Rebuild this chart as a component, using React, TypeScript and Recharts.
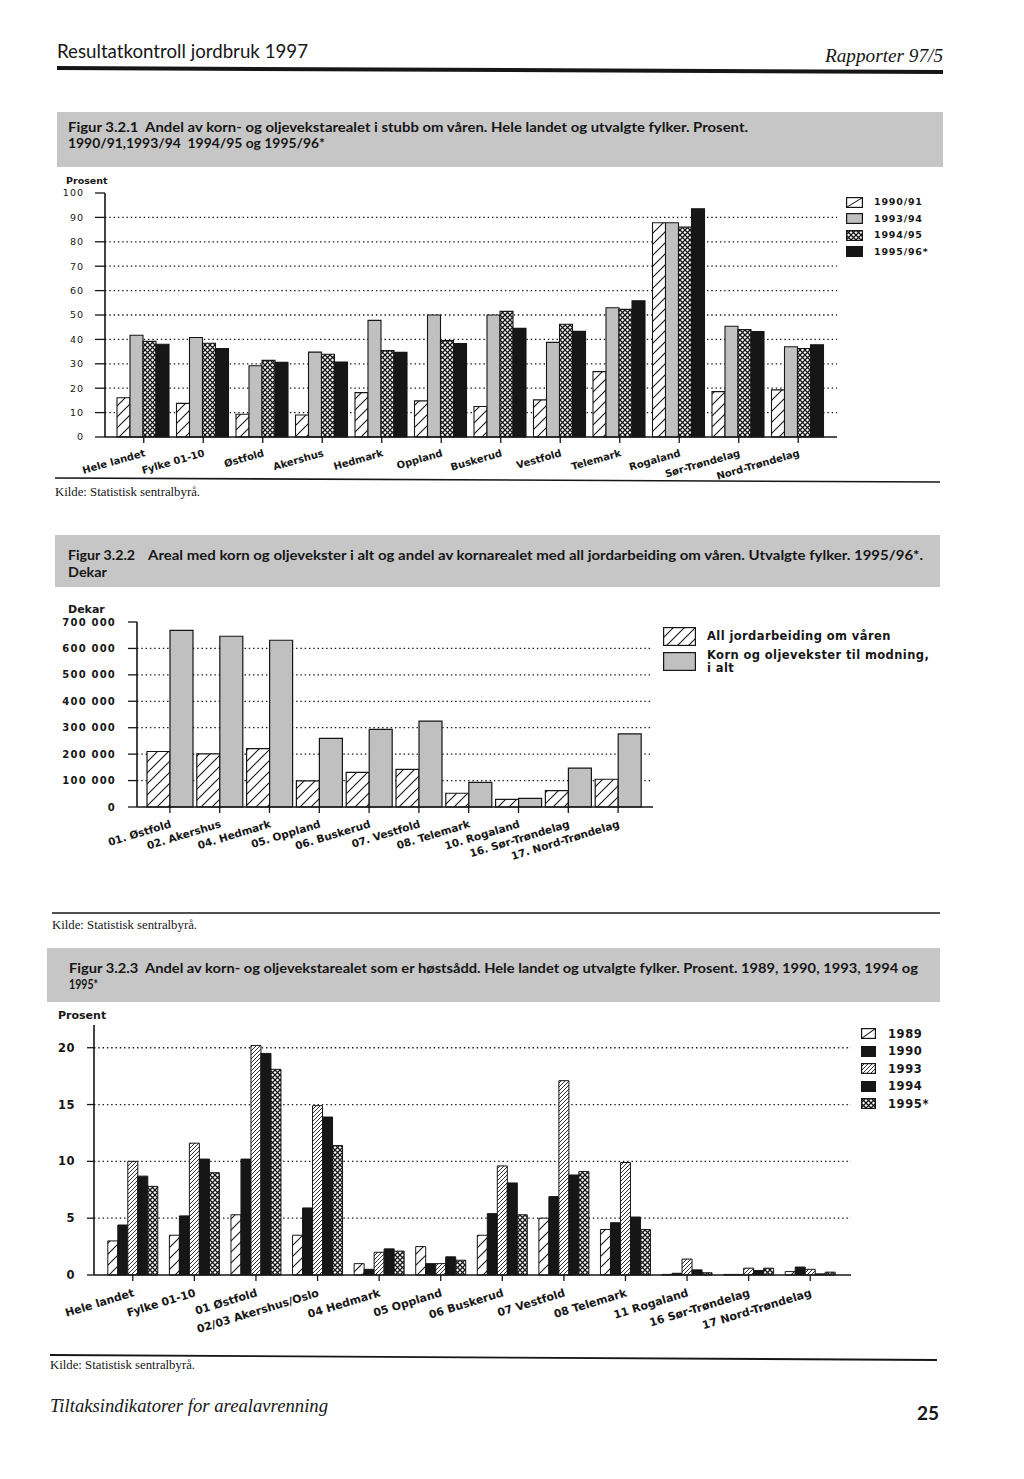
import React from "react";
import { Bar, BarChart, CartesianGrid, Legend, XAxis, YAxis } from "recharts";

const INK = "#161616";
const GRAY = "#c0c0c0";
const BAND = "#c6c6c6";
const SANS = '"DejaVu Sans", Verdana, sans-serif';
const SERIF = '"Liberation Serif", "DejaVu Serif", serif';
const HEAD = 'Lato, "Open Sans", sans-serif';

// Figur 3.2.1 – andel av korn- og oljevekstarealet i stubb om våren (prosent)
const fylker1 = [
  "Hele landet",
  "Fylke 01-10",
  "Østfold",
  "Akershus",
  "Hedmark",
  "Oppland",
  "Buskerud",
  "Vestfold",
  "Telemark",
  "Rogaland",
  "Sør-Trøndelag",
  "Nord-Trøndelag",
];
const stubb9091 = [16.1, 13.8, 9.3, 9.0, 18.2, 14.8, 12.5, 15.2, 26.8, 87.8, 18.6, 19.3];
const stubb9394 = [41.7, 40.8, 29.2, 34.8, 47.8, 50.0, 50.0, 38.8, 53.0, 87.8, 45.4, 37.0];
const stubb9495 = [39.2, 38.4, 31.4, 33.9, 35.4, 39.5, 51.5, 46.2, 52.3, 86.0, 44.0, 36.3];
const stubb9596 = [38.0, 36.3, 30.6, 30.7, 34.7, 38.3, 44.5, 43.3, 55.8, 93.5, 43.2, 37.8];
const ticks1 = [0, 10, 20, 30, 40, 50, 60, 70, 80, 90, 100];
const grid1 = [10, 20, 30, 40, 50, 60, 70, 80, 90];

// Figur 3.2.2 – areal med korn og oljevekster (dekar)
const fylker2 = [
  "01. Østfold",
  "02. Akershus",
  "04. Hedmark",
  "05. Oppland",
  "06. Buskerud",
  "07. Vestfold",
  "08. Telemark",
  "10. Rogaland",
  "16. Sør-Trøndelag",
  "17. Nord-Trøndelag",
];
const jordarbeiding = [210000, 201000, 221000, 99000, 131000, 142000, 52000, 29000, 62000, 105000];
const kornIAlt = [668000, 646000, 631000, 260000, 294000, 325000, 93000, 33000, 147000, 277000];
const ticks2 = [0, 100000, 200000, 300000, 400000, 500000, 600000, 700000];
const grid2 = [100000, 200000, 300000, 400000, 500000, 600000];

// Figur 3.2.3 – andel høstsådd (prosent)
const fylker3 = [
  "Hele landet",
  "Fylke 01-10",
  "01 Østfold",
  "02/03 Akershus/Oslo",
  "04 Hedmark",
  "05 Oppland",
  "06 Buskerud",
  "07 Vestfold",
  "08 Telemark",
  "11 Rogaland",
  "16 Sør-Trøndelag",
  "17 Nord-Trøndelag",
];
const host1989 = [3.0, 3.5, 5.3, 3.5, 1.0, 2.5, 3.5, 5.0, 4.0, 0.05, 0.05, 0.3];
const host1990 = [4.4, 5.2, 10.2, 5.9, 0.5, 1.0, 5.4, 6.9, 4.6, 0.15, 0.05, 0.7];
const host1993 = [10.0, 11.6, 20.2, 14.9, 2.0, 1.0, 9.6, 17.1, 9.9, 1.4, 0.6, 0.5];
const host1994 = [8.7, 10.2, 19.5, 13.9, 2.3, 1.6, 8.1, 8.8, 5.1, 0.45, 0.4, 0.1];
const host1995 = [7.8, 9.0, 18.1, 11.4, 2.1, 1.3, 5.3, 9.1, 4.0, 0.2, 0.6, 0.25];
const ticks3 = [0, 5, 10, 15, 20];
const grid3 = [5, 10, 15, 20];

const rows1 = fylker1.map((name, i) => ({
  name,
  s9091: stubb9091[i],
  s9394: stubb9394[i],
  s9495: stubb9495[i],
  s9596: stubb9596[i],
}));
const rows2 = fylker2.map((name, i) => ({ name, jord: jordarbeiding[i], korn: kornIAlt[i] }));
const rows3 = fylker3.map((name, i) => ({
  name,
  y1989: host1989[i],
  y1990: host1990[i],
  y1993: host1993[i],
  y1994: host1994[i],
  y1995: host1995[i],
}));

type Kind = "hatch" | "dense" | "gray" | "cross" | "black";

function Patterns({ id }: { id: string }) {
  const hatch = (name: string, s: number, w: number) => (
    <pattern id={`${id}-${name}`} patternUnits="userSpaceOnUse" width={s} height={s}>
      <rect width={s} height={s} fill="#fff" />
      <path
        d={`M0,${s} L${s},0 M${-s / 2},${s / 2} L${s / 2},${-s / 2} M${s / 2},${s * 1.5} L${s * 1.5},${s / 2}`}
        stroke={INK}
        strokeWidth={w}
      />
    </pattern>
  );
  return (
    <defs>
      {hatch("hatch", 11, 1.1)}
      {hatch("dense", 4, 0.9)}
      <pattern id={`${id}-cross`} patternUnits="userSpaceOnUse" width={5} height={5}>
        <rect width={5} height={5} fill="#fff" />
        <path d="M0,0 L5,5 M5,0 L0,5" stroke={INK} strokeWidth={1.3} />
      </pattern>
    </defs>
  );
}

function fillFor(kind: Kind, id: string): string {
  if (kind === "gray") return GRAY;
  if (kind === "black") return INK;
  return `url(#${id}-${kind})`;
}

function Swatch({ kind, w, h, id }: { kind: Kind; w: number; h: number; id: string }) {
  const single = kind === "hatch" && w <= 20;
  return (
    <svg width={w} height={h} style={{ display: "block", flex: "none" }}>
      <Patterns id={id} />
      <rect
        x={0.6}
        y={0.6}
        width={w - 1.2}
        height={h - 1.2}
        fill={single ? "#fff" : fillFor(kind, id)}
        stroke={INK}
        strokeWidth={1.2}
      />
      {single ? <line x1={0.6} y1={h - 0.6} x2={w - 0.6} y2={0.6} stroke={INK} strokeWidth={1.1} /> : null}
    </svg>
  );
}

function KeyList({
  payload,
  kinds,
  id,
  w,
  h,
  row,
  size,
  gap,
  textWidth,
  spacing,
}: {
  payload?: any[];
  kinds: Record<string, Kind>;
  id: string;
  w: number;
  h: number;
  row: number;
  size: number;
  gap: number;
  textWidth: number;
  spacing: number;
}) {
  return (
    <div style={{ fontFamily: SANS, fontWeight: "bold", fontSize: size, color: INK, letterSpacing: spacing }}>
      {(payload ?? []).map((entry) => {
        const key = String(entry.dataKey);
        return (
          <div key={key} style={{ display: "flex", alignItems: "center", height: row }}>
            <Swatch kind={kinds[key]} w={w} h={h} id={`${id}-${key}`} />
            <span style={{ marginLeft: gap, width: textWidth, lineHeight: `${size + 1}px` }}>{entry.value}</span>
          </div>
        );
      })}
    </div>
  );
}

function SlantTick(props: any) {
  const { x, y, payload, size, angle, dy } = props;
  const tx = x + 2;
  const ty = y + dy;
  return (
    <text
      x={tx}
      y={ty}
      textAnchor="end"
      transform={`rotate(${angle} ${tx} ${ty})`}
      fontFamily={SANS}
      fontWeight="bold"
      fontSize={size}
      fill={INK}
    >
      {payload.value}
    </text>
  );
}

const dekar = (v: number) => (v === 0 ? "0" : String(v).replace(/\B(?=(\d{3})+(?!\d))/g, " "));

const kinds1: Record<string, Kind> = { s9091: "hatch", s9394: "gray", s9495: "cross", s9596: "black" };
const kinds2: Record<string, Kind> = { jord: "hatch", korn: "gray" };
const kinds3: Record<string, Kind> = { y1989: "hatch", y1990: "black", y1993: "dense", y1994: "black", y1995: "cross" };

const axisLine = { stroke: INK, strokeWidth: 1.6 };
const tickLine = { stroke: INK, strokeWidth: 1.3 };
const gridProps = { stroke: INK, strokeWidth: 1.3, strokeDasharray: "1.4 2.9", vertical: false };
const pre = { whiteSpace: "pre" as const };

function Page() {
  return (
    <svg width={1024} height={1479} style={{ position: "absolute", left: 0, top: 0 }}>
      <text x={57} y={58} fontFamily={HEAD} fontSize={19} fill={INK} textLength={251} lengthAdjust="spacingAndGlyphs">
        Resultatkontroll jordbruk 1997
      </text>
      <text x={825} y={62} fontFamily={SERIF} fontStyle="italic" fontSize={18} fill={INK} textLength={118} lengthAdjust="spacingAndGlyphs">
        Rapporter 97/5
      </text>
      <line x1={57} y1={68} x2={943} y2={72} stroke={INK} strokeWidth={4} />

      <rect x={57} y={112} width={886} height={55} fill={BAND} />
      <text x={68} y={132} style={pre} fontFamily={HEAD} fontWeight="bold" fontSize={14} fill={INK} textLength={680} lengthAdjust="spacingAndGlyphs">
        Figur 3.2.1  Andel av korn- og oljevekstarealet i stubb om våren. Hele landet og utvalgte fylker. Prosent.
      </text>
      <text x={68} y={148} style={pre} fontFamily={HEAD} fontWeight="bold" fontSize={14} fill={INK} textLength={257} lengthAdjust="spacingAndGlyphs">
        1990/91,1993/94  1994/95 og 1995/96*
      </text>
      <text x={66} y={184} fontFamily={SANS} fontWeight="bold" fontSize={9.5} fill={INK}>
        Prosent
      </text>
      <line x1={55} y1={478} x2={940} y2={482} stroke={INK} strokeWidth={1.6} />
      <text x={55} y={496} fontFamily={SERIF} fontSize={11.5} fill={INK} textLength={145} lengthAdjust="spacingAndGlyphs">
        Kilde: Statistisk sentralbyrå.
      </text>

      <rect x={55} y={535} width={885} height={52} fill={BAND} />
      <text x={68} y={560} fontFamily={HEAD} fontWeight="bold" fontSize={14} fill={INK} textLength={67} lengthAdjust="spacingAndGlyphs">
        Figur 3.2.2
      </text>
      <text x={148} y={560} fontFamily={HEAD} fontWeight="bold" fontSize={14} fill={INK} textLength={775} lengthAdjust="spacingAndGlyphs">
        Areal med korn og oljevekster i alt og andel av kornarealet med all jordarbeiding om våren. Utvalgte fylker. 1995/96*.
      </text>
      <text x={68} y={577} fontFamily={HEAD} fontWeight="bold" fontSize={14} fill={INK} textLength={39} lengthAdjust="spacingAndGlyphs">
        Dekar
      </text>
      <text x={68} y={613} fontFamily={SANS} fontWeight="bold" fontSize={11} fill={INK}>
        Dekar
      </text>
      <line x1={52} y1={913} x2={940} y2={913} stroke={INK} strokeWidth={1.6} />
      <text x={52} y={929} fontFamily={SERIF} fontSize={11.5} fill={INK} textLength={145} lengthAdjust="spacingAndGlyphs">
        Kilde: Statistisk sentralbyrå.
      </text>

      <rect x={47} y={948} width={893} height={54} fill={BAND} />
      <text x={69} y={973} style={pre} fontFamily={HEAD} fontWeight="bold" fontSize={14} fill={INK} textLength={849} lengthAdjust="spacingAndGlyphs">
        Figur 3.2.3  Andel av korn- og oljevekstarealet som er høstsådd. Hele landet og utvalgte fylker. Prosent. 1989, 1990, 1993, 1994 og
      </text>
      <text x={69} y={989} fontFamily={HEAD} fontWeight="bold" fontSize={14} fill={INK} textLength={29} lengthAdjust="spacingAndGlyphs">
        1995*
      </text>
      <text x={58} y={1019} fontFamily={SANS} fontWeight="bold" fontSize={11} fill={INK}>
        Prosent
      </text>
      <line x1={50} y1={1355} x2={937} y2={1360} stroke={INK} strokeWidth={1.8} />
      <text x={50} y={1369} fontFamily={SERIF} fontSize={11.5} fill={INK} textLength={145} lengthAdjust="spacingAndGlyphs">
        Kilde: Statistisk sentralbyrå.
      </text>

      <text x={50} y={1412} fontFamily={SERIF} fontStyle="italic" fontSize={18} fill={INK} textLength={278} lengthAdjust="spacingAndGlyphs">
        Tiltaksindikatorer for arealavrenning
      </text>
      <text x={917} y={1420} fontFamily={HEAD} fontWeight="bold" fontSize={19} fill={INK}>
        25
      </text>
    </svg>
  );
}

export default function App() {
  return (
    <div style={{ position: "absolute", left: 0, top: 0, width: 1024, height: 1479, background: "#fff" }}>
      <Page />

      <div style={{ position: "absolute", left: 0, top: 160 }}>
        <BarChart
          width={960}
          height={340}
          data={rows1}
          margin={{ top: 33, right: 123, left: 55, bottom: 0 }}
          barGap={0}
          barCategoryGap={3}
        >
          <Patterns id="f1" />
          <CartesianGrid {...gridProps} horizontalValues={grid1} />
          <XAxis
            dataKey="name"
            interval={0}
            height={63}
            padding={{ left: 9, right: 9 }}
            axisLine={axisLine}
            tickLine={tickLine}
            tickSize={6}
            tick={(p: any) => <SlantTick {...p} size={10} angle={-16} dy={11} />}
          />
          <YAxis
            width={50}
            domain={[0, 100]}
            ticks={ticks1}
            interval={0}
            axisLine={axisLine}
            tickLine={tickLine}
            tickSize={10}
            tickMargin={11}
            tick={{ fontSize: 9.5, fill: INK, fontFamily: SANS, letterSpacing: 1 }}
          />
          <Legend
            layout="vertical"
            align="center"
            verticalAlign="middle"
            wrapperStyle={{ left: 846, top: 34, width: 110 }}
            content={(p: any) => (
              <KeyList payload={p.payload} kinds={kinds1} id="k1" w={17} h={11} row={16.5} size={9.5} gap={11} textWidth={80} spacing={0.8} />
            )}
          />
          <Bar dataKey="s9091" name="1990/91" fill={fillFor("hatch", "f1")} stroke={INK} strokeWidth={1.1} isAnimationActive={false} />
          <Bar dataKey="s9394" name="1993/94" fill={fillFor("gray", "f1")} stroke={INK} strokeWidth={1.1} isAnimationActive={false} />
          <Bar dataKey="s9495" name="1994/95" fill={fillFor("cross", "f1")} stroke={INK} strokeWidth={1.1} isAnimationActive={false} />
          <Bar dataKey="s9596" name="1995/96*" fill={fillFor("black", "f1")} stroke={INK} strokeWidth={1.1} isAnimationActive={false} />
        </BarChart>
      </div>

      <div style={{ position: "absolute", left: 0, top: 590 }}>
        <BarChart
          width={960}
          height={290}
          data={rows2}
          margin={{ top: 32, right: 307, left: 67, bottom: 0 }}
          barGap={0}
          barCategoryGap={2}
        >
          <Patterns id="f2" />
          <CartesianGrid {...gridProps} horizontalValues={grid2} />
          <XAxis
            dataKey="name"
            interval={0}
            height={73}
            padding={{ left: 8, right: 10 }}
            axisLine={axisLine}
            tickLine={tickLine}
            tickSize={6}
            tick={(p: any) => <SlantTick {...p} size={10.5} angle={-17} dy={12} />}
          />
          <YAxis
            width={70}
            domain={[0, 700000]}
            ticks={ticks2}
            interval={0}
            tickFormatter={dekar}
            axisLine={axisLine}
            tickLine={tickLine}
            tickSize={9}
            tickMargin={12}
            tick={{ fontSize: 10, fill: INK, fontFamily: SANS, fontWeight: "bold", letterSpacing: 1.2 }}
          />
          <Legend
            layout="vertical"
            align="center"
            verticalAlign="middle"
            wrapperStyle={{ left: 663, top: 34, width: 290 }}
            content={(p: any) => (
              <KeyList payload={p.payload} kinds={kinds2} id="k2" w={33} h={19} row={25} size={11.5} gap={11} textWidth={224} spacing={0.4} />
            )}
          />
          <Bar dataKey="jord" name="All jordarbeiding om våren" fill={fillFor("hatch", "f2")} stroke={INK} strokeWidth={1.2} isAnimationActive={false} />
          <Bar dataKey="korn" name="Korn og oljevekster til modning, i alt" fill={fillFor("gray", "f2")} stroke={INK} strokeWidth={1.2} isAnimationActive={false} />
        </BarChart>
      </div>

      <div style={{ position: "absolute", left: 0, top: 1010 }}>
        <BarChart
          width={970}
          height={330}
          data={rows3}
          margin={{ top: 15, right: 119, left: 54, bottom: 0 }}
          barGap={0}
          barCategoryGap={5.8}
        >
          <Patterns id="f3" />
          <CartesianGrid {...gridProps} horizontalValues={grid3} />
          <XAxis
            dataKey="name"
            interval={0}
            height={65}
            padding={{ left: 8, right: 10 }}
            axisLine={axisLine}
            tickLine={tickLine}
            tickSize={6}
            tick={(p: any) => <SlantTick {...p} size={11} angle={-17} dy={13} />}
          />
          <YAxis
            width={40}
            domain={[0, 22]}
            ticks={ticks3}
            interval={0}
            axisLine={axisLine}
            tickLine={tickLine}
            tickSize={7}
            tickMargin={12}
            tick={{ fontSize: 11.5, fill: INK, fontFamily: SANS, fontWeight: "bold", letterSpacing: 0.5 }}
          />
          <Legend
            layout="vertical"
            align="center"
            verticalAlign="middle"
            wrapperStyle={{ left: 861, top: 15, width: 100 }}
            content={(p: any) => (
              <KeyList payload={p.payload} kinds={kinds3} id="k3" w={15} h={11} row={17.5} size={11.5} gap={12} textWidth={70} spacing={0.6} />
            )}
          />
          <Bar dataKey="y1989" name="1989" fill={fillFor("hatch", "f3")} stroke={INK} strokeWidth={1} isAnimationActive={false} />
          <Bar dataKey="y1990" name="1990" fill={fillFor("black", "f3")} stroke={INK} strokeWidth={1} isAnimationActive={false} />
          <Bar dataKey="y1993" name="1993" fill={fillFor("dense", "f3")} stroke={INK} strokeWidth={1} isAnimationActive={false} />
          <Bar dataKey="y1994" name="1994" fill={fillFor("black", "f3")} stroke={INK} strokeWidth={1} isAnimationActive={false} />
          <Bar dataKey="y1995" name="1995*" fill={fillFor("cross", "f3")} stroke={INK} strokeWidth={1} isAnimationActive={false} />
        </BarChart>
      </div>
    </div>
  );
}
